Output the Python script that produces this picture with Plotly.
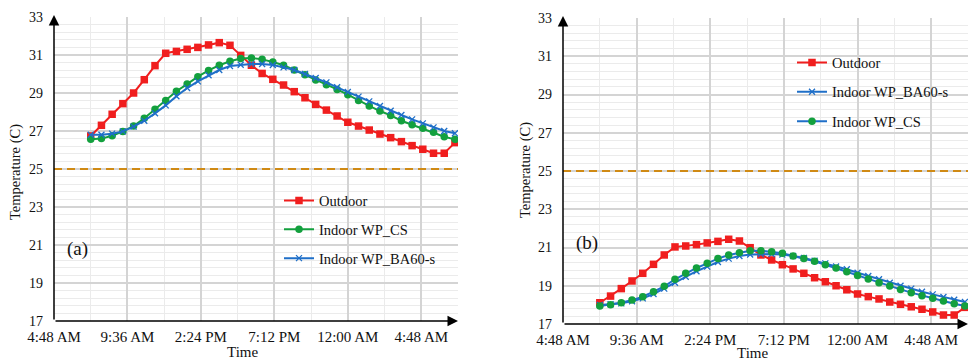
import plotly.graph_objects as go

# ---------------- data ----------------
times_h = [7.2, 7.9, 8.6, 9.3, 10.0, 10.7, 11.4, 12.1, 12.8, 13.5, 14.2, 14.9, 15.6, 16.3,
           17.0, 17.7, 18.4, 19.1, 19.8, 20.5, 21.2, 21.9, 22.6, 23.3, 24.0, 24.7, 25.4,
           26.1, 26.8, 27.5, 28.2, 28.9, 29.6, 30.3, 31.0]

a_outdoor = [26.74, 27.30, 27.88, 28.44, 29.00, 29.70, 30.44, 31.09, 31.19, 31.30, 31.40, 31.53,
             31.65, 31.51, 30.98, 30.46, 30.03, 29.72, 29.42, 29.07, 28.75, 28.40, 28.10, 27.79,
             27.46, 27.26, 27.05, 26.84, 26.65, 26.44, 26.23, 26.04, 25.83, 25.83, 26.39]
a_cs = [26.56, 26.60, 26.75, 26.98, 27.26, 27.67, 28.14, 28.61, 29.09, 29.47, 29.86, 30.19,
        30.46, 30.67, 30.81, 30.84, 30.77, 30.63, 30.46, 30.21, 29.96, 29.68, 29.44, 29.19,
        28.91, 28.60, 28.32, 28.05, 27.82, 27.54, 27.33, 27.14, 26.93, 26.70, 26.56]
a_ba60 = [26.80, 26.80, 26.86, 26.98, 27.23, 27.54, 27.93, 28.35, 28.83, 29.26, 29.61, 29.93,
          30.21, 30.42, 30.49, 30.53, 30.53, 30.47, 30.35, 30.21, 30.00, 29.79, 29.56, 29.30,
          29.05, 28.81, 28.56, 28.32, 28.07, 27.84, 27.61, 27.40, 27.19, 27.00, 26.88]

b_outdoor = [18.11, 18.46, 18.85, 19.25, 19.65, 20.12, 20.61, 21.03, 21.08, 21.15, 21.24, 21.32,
             21.43, 21.34, 20.99, 20.61, 20.35, 20.10, 19.88, 19.65, 19.42, 19.21, 19.00, 18.79,
             18.57, 18.43, 18.31, 18.15, 18.03, 17.90, 17.77, 17.63, 17.47, 17.47, 17.87]
b_cs = [17.94, 18.01, 18.11, 18.25, 18.43, 18.69, 18.97, 19.34, 19.65, 19.93, 20.17, 20.42,
        20.61, 20.73, 20.83, 20.83, 20.78, 20.70, 20.56, 20.42, 20.28, 20.10, 19.93, 19.73,
        19.54, 19.35, 19.16, 18.99, 18.81, 18.64, 18.48, 18.34, 18.20, 18.06, 17.94]
b_ba60 = [17.99, 18.03, 18.08, 18.19, 18.34, 18.57, 18.85, 19.16, 19.47, 19.76, 20.00, 20.24,
          20.42, 20.56, 20.63, 20.66, 20.66, 20.63, 20.56, 20.45, 20.31, 20.17, 20.01, 19.86,
          19.68, 19.51, 19.34, 19.16, 19.00, 18.85, 18.69, 18.55, 18.41, 18.27, 18.15]

tick_vals = [4.8, 9.6, 14.4, 19.2, 24.0, 28.8]
tick_text = ["4:48 AM", "9:36 AM", "2:24 PM", "7:12 PM", "12:00 AM", "4:48 AM"]
x_range = [4.8, 31.2]
y_range = [17, 33]
y_ticks = [17, 19, 21, 23, 25, 27, 29, 31, 33]
threshold = 25

# ---------------- style ----------------
FONT = "Liberation Serif"
RED = "#F01E1E"
GREEN = "#13A03E"
BLUE = "#1F6FC8"
W, H = 969, 360

fig = go.Figure()


def line_trace(x, y, name, lcol, symbol, mcol, xa, ya, legend, size=7.5):
    mk = dict(symbol=symbol, size=size, color=mcol)
    if symbol.startswith("x"):
        mk.update(size=6, line=dict(color=mcol, width=1.3))
    return go.Scatter(x=x, y=y, name=name, mode="lines+markers",
                      line=dict(color=lcol, width=2), marker=mk,
                      xaxis=xa, yaxis=ya, legend=legend, legendgroup=name + legend)


# panel (a)
fig.add_trace(line_trace(times_h, a_outdoor, "Outdoor", RED, "square", RED, "x", "y", "legend"))
fig.add_trace(line_trace(times_h, a_cs, "Indoor WP_CS", GREEN, "circle", GREEN, "x", "y", "legend"))
fig.add_trace(line_trace(times_h, a_ba60, "Indoor WP_BA60-s", BLUE, "x-thin", BLUE, "x", "y", "legend"))
# panel (b)
fig.add_trace(line_trace(times_h, b_outdoor, "Outdoor", RED, "square", RED, "x2", "y2", "legend2"))
fig.add_trace(line_trace(times_h, b_ba60, "Indoor WP_BA60-s", BLUE, "x-thin", BLUE, "x2", "y2", "legend2"))
fig.add_trace(line_trace(times_h, b_cs, "Indoor WP_CS", BLUE, "circle", GREEN, "x2", "y2", "legend2"))

xa_common = dict(range=x_range, tickvals=tick_vals, ticktext=tick_text, ticks="",
                 showgrid=True, gridcolor="#d4d4d4", gridwidth=1.5, zeroline=False,
                 showline=False, ticklabelstandoff=5, automargin=False,
                 tickfont=dict(family=FONT, size=15, color="#111"),
                 minor=dict(dtick=2.4, tick0=4.8, showgrid=True, gridcolor="#ebebeb", gridwidth=1))
ya_common = dict(range=y_range, tickvals=y_ticks, ticks="", showgrid=True,
                 gridcolor="#d4d4d4", gridwidth=1.5, zeroline=False, showline=False,
                 ticklabelstandoff=10, automargin=False,
                 tickfont=dict(family=FONT, size=14, color="#111"),
                 minor=dict(dtick=0.4, tick0=17, showgrid=True, gridcolor="#ebebeb", gridwidth=1))

fig.update_layout(
    width=W, height=H, margin=dict(l=0, r=0, t=0, b=0, autoexpand=False),
    paper_bgcolor="white", plot_bgcolor="white",
    font=dict(family=FONT, size=14, color="#111"),
    xaxis=dict(domain=[54 / W, 458 / W], anchor="y", **xa_common),
    yaxis=dict(domain=[39 / H, 343 / H], anchor="x", **ya_common),
    xaxis2=dict(domain=[563 / W, 968 / W], anchor="y2", **xa_common),
    yaxis2=dict(domain=[36 / H, 342 / H], anchor="x2", **ya_common),
    legend=dict(x=279 / W, y=1 - 184.5 / H, xanchor="left", yanchor="top",
                bgcolor="rgba(0,0,0,0)", font=dict(family=FONT, size=14.5),
                traceorder="grouped", tracegroupgap=7, itemwidth=30),
    legend2=dict(x=792 / W, y=1 - 46.5 / H, xanchor="left", yanchor="top",
                 bgcolor="rgba(0,0,0,0)", font=dict(family=FONT, size=14.5),
                 traceorder="grouped", tracegroupgap=7.5, itemwidth=30),
    showlegend=True,
)

# threshold dashed lines
for xr, yr in (("x", "y"), ("x2", "y2")):
    fig.add_shape(type="line", xref=f"{xr} domain", yref=yr, x0=0, x1=1,
                  y0=threshold, y1=threshold,
                  line=dict(color="#D08A14", width=1.8, dash="8px,5px"))

# axes with arrows
for xr, yr in (("x", "y"), ("x2", "y2")):
    fig.add_annotation(x=x_range[0], y=y_range[1] + 0.1, ax=x_range[0], ay=y_range[0],
                       xref=xr, yref=yr, axref=xr, ayref=yr, text="", showarrow=True,
                       arrowhead=2, arrowsize=1.4, arrowwidth=1.5, arrowcolor="black")
    fig.add_annotation(x=x_range[1], y=y_range[0], ax=x_range[0], ay=y_range[0],
                       xref=xr, yref=yr, axref=xr, ayref=yr, text="", showarrow=True,
                       arrowhead=2, arrowsize=1.4, arrowwidth=1.5, arrowcolor="black")


def label(x, y, text, size=15, angle=0):
    fig.add_annotation(x=x / W, y=1 - y / H, xref="paper", yref="paper", text=text,
                       xanchor="center", yanchor="middle", textangle=angle,
                       showarrow=False, font=dict(family=FONT, size=size, color="#111"))


# axis titles and panel labels
label(242, 352, "Time")
label(752, 353, "Time")
label(15, 172, "Temperature (C)", size=14.5, angle=-90)
label(525, 170, "Temperature (C)", size=14.5, angle=-90)
label(77, 249, "(a)", size=19)
label(587, 243, "(b)", size=19)

fig.write_html("out.html")
